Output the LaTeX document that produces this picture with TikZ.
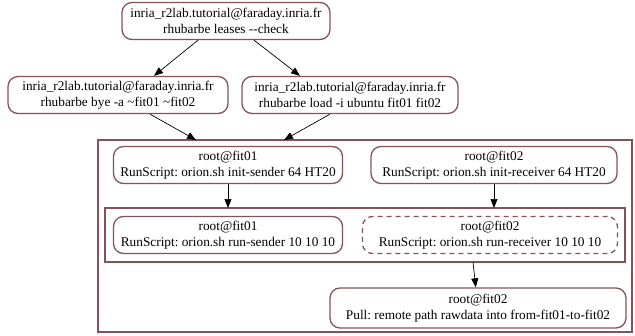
\documentclass[tikz,border=0pt]{standalone}
\usepackage{fontspec}
\setmainfont{Liberation Serif}
\usetikzlibrary{arrows.meta}
\definecolor{jobred}{HTML}{85525A}
\frenchspacing
\begin{document}
\begin{tikzpicture}[x=1pt,y=-1pt]
	\tikzstyle{job}=[rectangle, rounded corners=10pt, draw=jobred, line width=1.3pt, align=center, minimum height=37pt, inner sep=2pt, font=\fontsize{13.3}{16}\selectfont]
	\tikzstyle{cluster}=[rectangle, draw=jobred, line width=1.3pt, inner sep=0pt]
	\tikzstyle{edge}=[-{Triangle[length=9pt,width=7pt]}, black, line width=0.7pt]
	\useasboundingbox (0,0) rectangle (635,335);
	% Clusters
	\node at (365,236) [cluster, minimum width=534pt, minimum height=192pt] (outer){};
	\node at (365,235) [cluster, minimum width=520pt, minimum height=54pt] (inner){};
	% Leases
	\node at (226,21) [job, minimum width=208pt] (leases) {inria\_r2lab.tutorial@faraday.inria.fr\\rhubarbe leases -{}-check};
	\node at (118,95) [job, minimum width=220pt] (bye) {inria\_r2lab.tutorial@faraday.inria.fr\\rhubarbe bye -a \char`~fit01 \char`~fit02};
	\node at (350,95) [job, minimum width=216pt] (load) {inria\_r2lab.tutorial@faraday.inria.fr\\rhubarbe load -i ubuntu fit01 fit02};
	% Init
	\node at (228,165) [job, minimum width=229pt] (init_1) {root@fit01\\RunScript: orion.sh init-sender 64 HT20};
	\node at (494,165) [job, minimum width=246pt] (init_2) {root@fit02\\RunScript: orion.sh init-receiver 64 HT20};
	% Run
	\node at (228,235) [job, minimum width=229pt] (run_1) {root@fit01\\RunScript: orion.sh run-sender 10 10 10};
	\node at (490,235) [job, minimum width=255pt, dashed, dash pattern=on 5pt off 4pt] (run_2) {root@fit02\\RunScript: orion.sh run-receiver 10 10 10};
	% Pull
	\node at (478,308) [job, minimum width=296pt, minimum height=40pt] (pull) {root@fit02\\Pull: remote path rawdata into from-fit01-to-fit02};
	%---------------------%
	\coordinate (outer_l) at (196,140);
	\coordinate (outer_r) at (284,140);
	\coordinate (inner_l) at (228,208);
	\coordinate (inner_r) at (494,208);
	\coordinate (inner_b) at (473,262);
	\draw [edge] (leases.south -| 198,0) to (bye.north -| 154,0);
	\draw [edge] (leases.south -| 254,0) to (load.north -| 300,0);
	\draw [edge] (bye.south -| 150,0) to (outer_l);
	\draw [edge] (load.south -| 330,0) to (outer_r);
	\draw [edge] (init_1) to (inner_l);
	\draw [edge] (init_2) to (inner_r);
	\draw [edge] (inner_b) to (pull);
	%---------------------%
\end{tikzpicture}
\end{document}
